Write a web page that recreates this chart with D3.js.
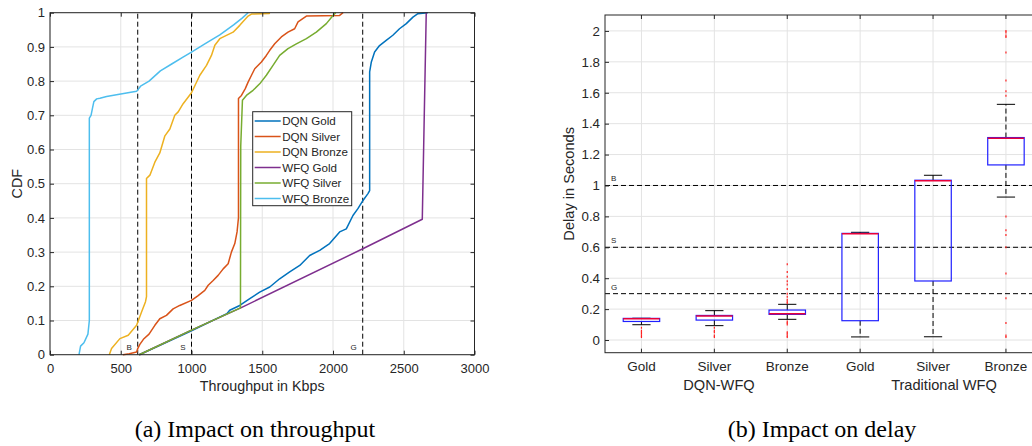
<!DOCTYPE html>
<html><head><meta charset="utf-8">
<script src="https://cdn.jsdelivr.net/npm/d3@7"></script>
<style>
body{margin:0;background:#fff}
svg{display:block}
text{font-family:"Liberation Sans",Arial,Helvetica,sans-serif}
text.caption{font-family:"Liberation Serif","Times New Roman",serif}
</style>
</head><body>
<svg id="c" width="1032" height="446"></svg>
<script>
// ---------------- DATA ----------------
// Panel (a): empirical CDFs of throughput (Kbps, CDF)
const throughputTicks = [0, 500, 1000, 1500, 2000, 2500, 3000];
const cdfTicks = [0, 0.1, 0.2, 0.3, 0.4, 0.5, 0.6, 0.7, 0.8, 0.9, 1];
const seriesNames = ["DQN Gold", "DQN Silver", "DQN Bronze", "WFQ Gold", "WFQ Silver", "WFQ Bronze"];
const throughputThresholds = [620, 1000, 2210];
const throughputThresholdLabels = ["B", "S", "G"];

const dqnGold = [[631,0],[1000,0.07],[1250,0.12],[1270,0.13],[1341,0.144],[1412,0.164],[1482,0.183],[1553,0.198],[1623,0.222],[1694,0.242],[1765,0.261],[1835,0.29],[1906,0.305],[1976,0.325],[2047,0.359],[2094,0.368],[2141,0.407],[2176,0.427],[2212,0.451],[2247,0.471],[2259,0.48],[2259,0.827],[2271,0.856],[2294,0.885],[2329,0.904],[2376,0.919],[2423,0.934],[2470,0.953],[2518,0.968],[2565,0.987],[2600,0.997],[2670,1.0]];
const dqnSilver = [[515,0],[560,0.003],[612,0.008],[620,0.018],[635,0.03],[660,0.045],[700,0.06],[741,0.086],[776,0.105],[823,0.115],[870,0.134],[917,0.144],[1000,0.159],[1047,0.173],[1094,0.188],[1118,0.203],[1153,0.217],[1188,0.232],[1224,0.251],[1259,0.266],[1282,0.30],[1306,0.325],[1322,0.359],[1329,0.388],[1332,0.40],[1332,0.749],[1353,0.758],[1380,0.778],[1400,0.797],[1424,0.817],[1447,0.836],[1494,0.856],[1529,0.875],[1553,0.89],[1588,0.909],[1635,0.929],[1682,0.943],[1729,0.953],[1753,0.973],[1812,0.99],[2047,0.992],[2071,1.0]];
const dqnBronze = [[419,0],[435,0.018],[494,0.047],[553,0.057],[612,0.086],[647,0.125],[675,0.155],[682,0.17],[682,0.515],[706,0.525],[741,0.563],[776,0.59],[812,0.64],[847,0.66],[882,0.70],[906,0.71],[941,0.734],[1000,0.766],[1059,0.817],[1106,0.846],[1141,0.875],[1165,0.905],[1200,0.924],[1294,0.943],[1341,0.963],[1400,0.99],[1424,0.996],[1550,0.998],[1550,1]];
const wfqGold = [[631,0],[1000,0.072],[1348,0.137],[2207,0.309],[2631,0.396],[2645,0.7],[2659,1.0]];
const wfqSilver = [[631,0],[1000,0.072],[1346,0.137],[1348,0.61],[1360,0.744],[1388,0.758],[1435,0.773],[1482,0.792],[1529,0.817],[1576,0.846],[1623,0.875],[1682,0.895],[1741,0.909],[1812,0.924],[1882,0.943],[1953,0.968],[2000,0.992],[2019,1.0]];
const wfqBronze = [[205,0],[216,0.025],[240,0.035],[268,0.06],[278,0.1],[278,0.692],[290,0.70],[300,0.72],[310,0.74],[330,0.748],[353,0.75],[400,0.755],[470,0.76],[541,0.765],[612,0.77],[640,0.785],[700,0.80],[780,0.83],[860,0.85],[940,0.87],[1000,0.885],[1100,0.91],[1200,0.935],[1300,0.965],[1360,0.985],[1400,1.0]];

// Panel (b): delay box plots (seconds)
const boxKeys = ["DQN Gold", "DQN Silver", "DQN Bronze", "WFQ Gold", "WFQ Silver", "WFQ Bronze"];
const boxTickLabels = ["Gold", "Silver", "Bronze", "Gold", "Silver", "Bronze"];
const groupLabels = ["DQN-WFQ", "Traditional WFQ"];
const delayTicks = [0, 0.2, 0.4, 0.6, 0.8, 1, 1.2, 1.4, 1.6, 1.8, 2];
const whiskerLow  = [0.099, 0.093, 0.134, 0.02, 0.021, 0.925];
const q1          = [0.12, 0.129, 0.166, 0.125, 0.382, 1.133];
const median      = [0.137, 0.155, 0.17, 0.688, 1.03, 1.305];
const q3          = [0.14, 0.159, 0.194, 0.69, 1.034, 1.31];
const whiskerHigh = [0.141, 0.19, 0.231, 0.697, 1.066, 1.525];
const outliers = [
  [0.02, 0.03, 0.04, 0.05, 0.06, 0.08],
  [0.02, 0.03, 0.05, 0.06, 0.08],
  [0.02, 0.03, 0.04, 0.05, 0.1, 0.11, 0.12, 0.24, 0.25, 0.26, 0.28, 0.3, 0.33, 0.36, 0.38, 0.41, 0.44, 0.49],
  [],
  [],
  [0.02, 0.03, 0.11, 0.27, 0.43, 0.6, 0.68, 0.71, 0.8, 1.58, 1.61, 1.68, 1.86, 1.96, 1.97, 1.99, 2.0]
];
const delayThresholds = [1, 0.6, 0.3];
const delayThresholdLabels = ["B", "S", "G"];

// ---------------- DRAWING ----------------
const colors = ["#0072BD", "#D95319", "#EDB120", "#7E2F8E", "#77AC30", "#4DBEEE"];
const seriesData = [dqnGold, dqnSilver, dqnBronze, wfqGold, wfqSilver, wfqBronze];
const axisColor = "#262626", gridColor = "#e3e3e3", tickFont = 13;

const svg = d3.select("#c");

function styleAxis(g, fs) {
  g.select(".domain").remove();
  g.selectAll(".tick line").attr("stroke", axisColor).attr("stroke-width", 1);
  g.selectAll(".tick text").attr("fill", axisColor).attr("font-size", fs);
}

// ===== Panel (a) =====
const xL = d3.scaleLinear([0, 3000], [50, 474.5]);
const yL = d3.scaleLinear([0, 1], [354.7, 12.7]);
const A = svg.append("g");

A.append("g").selectAll("line").data(throughputTicks).join("line")
  .attr("x1", d => xL(d)).attr("x2", d => xL(d))
  .attr("y1", yL(0)).attr("y2", yL(1)).attr("stroke", gridColor);
A.append("g").selectAll("line").data(cdfTicks).join("line")
  .attr("y1", d => yL(d)).attr("y2", d => yL(d))
  .attr("x1", xL(0)).attr("x2", xL(3000)).attr("stroke", gridColor);

// threshold lines
A.append("g").selectAll("line").data(throughputThresholds).join("line")
  .attr("x1", d => xL(d)).attr("x2", d => xL(d))
  .attr("y1", yL(0)).attr("y2", yL(1))
  .attr("stroke", "#000").attr("stroke-width", 1).attr("stroke-dasharray", "5,3");
A.append("g").selectAll("text").data(throughputThresholds).join("text")
  .attr("x", d => xL(d) - 6).attr("y", yL(0) - 5)
  .attr("text-anchor", "end").attr("font-size", 8).attr("fill", axisColor)
  .text((d, i) => throughputThresholdLabels[i]);

// series
const lineL = d3.line().x(d => xL(d[0])).y(d => yL(d[1]));
A.append("g").selectAll("path").data(seriesData).join("path")
  .attr("d", d => lineL(d)).attr("fill", "none")
  .attr("stroke", (d, i) => colors[i]).attr("stroke-width", 1.5)
  .attr("stroke-linejoin", "round");

// axes
A.append("g").attr("transform", `translate(0,${yL(0)})`)
  .call(d3.axisBottom(xL).tickValues(throughputTicks).tickSizeInner(-4).tickSizeOuter(0).tickPadding(9).tickFormat(d3.format("d")))
  .call(g => styleAxis(g, tickFont));
A.append("g").attr("transform", `translate(0,${yL(1)})`)
  .call(d3.axisTop(xL).tickValues(throughputTicks).tickSizeInner(-4).tickSizeOuter(0).tickFormat(""))
  .call(g => styleAxis(g, tickFont));
A.append("g").attr("transform", `translate(${xL(0)},0)`)
  .call(d3.axisLeft(yL).tickValues(cdfTicks).tickSizeInner(-4).tickSizeOuter(0).tickPadding(5).tickFormat(d3.format("~g")))
  .call(g => styleAxis(g, tickFont));
A.append("g").attr("transform", `translate(${xL(3000)},0)`)
  .call(d3.axisRight(yL).tickValues(cdfTicks).tickSizeInner(-4).tickSizeOuter(0).tickFormat(""))
  .call(g => styleAxis(g, tickFont));
A.append("rect").attr("x", xL(0)).attr("y", yL(1))
  .attr("width", xL(3000) - xL(0)).attr("height", yL(0) - yL(1))
  .attr("fill", "none").attr("stroke", axisColor).attr("stroke-width", 1);

A.append("text").attr("x", (xL(0) + xL(3000)) / 2).attr("y", 391)
  .attr("text-anchor", "middle").attr("font-size", 14.3).attr("fill", axisColor)
  .text("Throughput in Kbps");
A.append("text").attr("transform", `translate(22,${(yL(0) + yL(1)) / 2}) rotate(-90)`)
  .attr("text-anchor", "middle").attr("font-size", 14.3).attr("fill", axisColor)
  .text("CDF");

// legend
const lg = A.append("g").attr("transform", "translate(252.7,111.7)");
lg.append("rect").attr("width", 99).attr("height", 94).attr("fill", "#fff")
  .attr("stroke", axisColor).attr("stroke-width", 1);
const items = lg.selectAll("g").data(seriesNames).join("g")
  .attr("transform", (d, i) => `translate(0,${9.3 + i * 15.5})`);
items.append("line").attr("x1", 2).attr("x2", 28).attr("stroke", (d, i) => colors[i]).attr("stroke-width", 1.5);
items.append("text").attr("x", 29.5).attr("dy", "0.35em").attr("font-size", 11.6)
  .attr("fill", axisColor).text(d => d);

// ===== Panel (b) =====
const xR = d3.scaleBand().domain(boxKeys).range([605, 1042.4]);
const yR = d3.scaleLinear([-0.082, 2.103], [352.7, 15]);
const B = svg.append("g");
const bw = xR.bandwidth();
const cx = k => xR(k) + bw / 2;

B.append("g").selectAll("line").data(boxKeys).join("line")
  .attr("x1", d => cx(d)).attr("x2", d => cx(d))
  .attr("y1", yR.range()[0]).attr("y2", yR.range()[1]).attr("stroke", gridColor);
B.append("g").selectAll("line").data(delayTicks).join("line")
  .attr("y1", d => yR(d)).attr("y2", d => yR(d))
  .attr("x1", 605).attr("x2", 1042.4).attr("stroke", gridColor);

// threshold lines
B.append("g").selectAll("line").data(delayThresholds).join("line")
  .attr("y1", d => yR(d)).attr("y2", d => yR(d))
  .attr("x1", 605).attr("x2", 1042.4)
  .attr("stroke", "#000").attr("stroke-width", 1).attr("stroke-dasharray", "5,3");
B.append("g").selectAll("text").data(delayThresholds).join("text")
  .attr("x", 611).attr("y", d => yR(d) - 4)
  .attr("font-size", 8).attr("fill", axisColor)
  .text((d, i) => delayThresholdLabels[i]);

// boxes
const boxes = B.append("g").selectAll("g").data(boxKeys).join("g");
boxes.append("line").attr("x1", d => cx(d)).attr("x2", d => cx(d))
  .attr("y1", (d, i) => yR(q3[i])).attr("y2", (d, i) => yR(whiskerHigh[i]))
  .attr("stroke", "#000").attr("stroke-dasharray", "5,3");
boxes.append("line").attr("x1", d => cx(d)).attr("x2", d => cx(d))
  .attr("y1", (d, i) => yR(q1[i])).attr("y2", (d, i) => yR(whiskerLow[i]))
  .attr("stroke", "#000").attr("stroke-dasharray", "5,3");
boxes.append("line").attr("x1", d => cx(d) - bw / 8).attr("x2", d => cx(d) + bw / 8)
  .attr("y1", (d, i) => yR(whiskerHigh[i])).attr("y2", (d, i) => yR(whiskerHigh[i]))
  .attr("stroke", "#000");
boxes.append("line").attr("x1", d => cx(d) - bw / 8).attr("x2", d => cx(d) + bw / 8)
  .attr("y1", (d, i) => yR(whiskerLow[i])).attr("y2", (d, i) => yR(whiskerLow[i]))
  .attr("stroke", "#000");
boxes.append("rect").attr("x", d => cx(d) - bw / 4).attr("width", bw / 2)
  .attr("y", (d, i) => yR(q3[i])).attr("height", (d, i) => yR(q1[i]) - yR(q3[i]))
  .attr("fill", "none").attr("stroke", "#2020ff").attr("stroke-width", 1.2);
boxes.append("line").attr("x1", d => cx(d) - bw / 4).attr("x2", d => cx(d) + bw / 4)
  .attr("y1", (d, i) => yR(median[i])).attr("y2", (d, i) => yR(median[i]))
  .attr("stroke", "#e8003a").attr("stroke-width", 1.5);
boxes.each(function (k, i) {
  d3.select(this).selectAll("path").data(outliers[i]).join("path")
    .attr("transform", v => `translate(${cx(k)},${yR(v)})`)
    .attr("d", "M-0.6,0H0.6M0,-1V1")
    .attr("stroke", "#ff2020").attr("stroke-width", 1.2);
});

// axes
B.append("g").attr("transform", `translate(0,${yR.range()[0]})`)
  .call(d3.axisBottom(xR).tickSizeInner(-4).tickSizeOuter(0).tickPadding(9)
    .tickFormat((d, i) => boxTickLabels[i]))
  .call(g => styleAxis(g, 13.5));
B.append("g").attr("transform", `translate(0,${yR.range()[1]})`)
  .call(d3.axisTop(xR).tickSizeInner(-4).tickSizeOuter(0).tickFormat(""))
  .call(g => styleAxis(g, 13.5));
B.append("g").attr("transform", `translate(605,0)`)
  .call(d3.axisLeft(yR).tickValues(delayTicks).tickSizeInner(-4).tickSizeOuter(0).tickPadding(5).tickFormat(d3.format("~g")))
  .call(g => styleAxis(g, 13.3));
B.append("rect").attr("x", 605).attr("y", yR.range()[1])
  .attr("width", 1042.4 - 605).attr("height", yR.range()[0] - yR.range()[1])
  .attr("fill", "none").attr("stroke", axisColor).attr("stroke-width", 1);

B.append("g").selectAll("text").data(groupLabels).join("text")
  .attr("x", (d, i) => [719, 944][i]).attr("y", 390)
  .attr("text-anchor", "middle").attr("font-size", 14.6).attr("fill", axisColor)
  .text(d => d);
B.append("text").attr("transform", `translate(574,${(yR.range()[0] + yR.range()[1]) / 2}) rotate(-90)`)
  .attr("text-anchor", "middle").attr("font-size", 14.6).attr("fill", axisColor)
  .text("Delay in Seconds");

// captions
svg.append("text").attr("class", "caption").attr("x", 255).attr("y", 437).attr("text-anchor", "middle")
  .attr("font-size", 24).attr("fill", "#000").text("(a) Impact on throughput");
svg.append("text").attr("class", "caption").attr("x", 822).attr("y", 437).attr("text-anchor", "middle")
  .attr("font-size", 24).attr("fill", "#000").text("(b) Impact on delay");
</script>
</body></html>
